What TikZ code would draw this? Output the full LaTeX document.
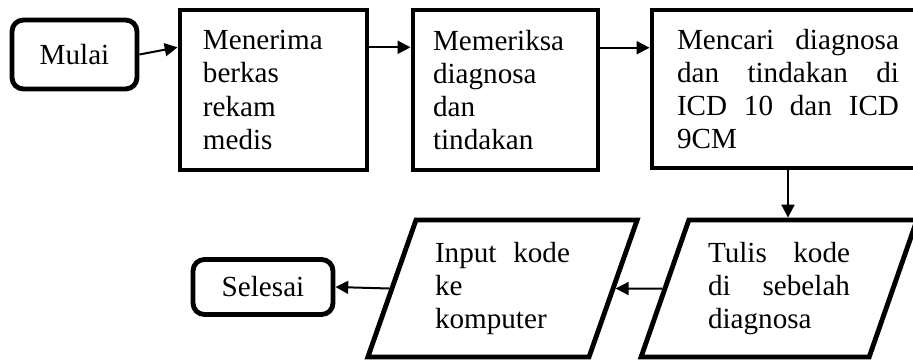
\documentclass[tikz,border=0pt]{standalone}
\usepackage{fontspec}
\setmainfont{Liberation Serif}
\usetikzlibrary{shapes.geometric,arrows.meta}

\tikzset{
	kotak/.style={draw,line width=1.7pt,inner sep=0pt,align=left,minimum height=56pt},
	mulaiselesai/.style={draw,line width=1.7pt,rounded corners=4pt,inner sep=0pt},
	jajar/.style={draw,line width=1.7pt,inner sep=0pt,align=left,trapezium,
		trapezium left angle=68,trapezium right angle=112,trapezium stretches=true,
		minimum height=47.95pt},
	panah/.style={-{Triangle[length=4.5pt,width=4.5pt]},line width=0.7pt}
}

\begin{document}
\begin{tikzpicture}[x=0.35pt,y=-0.35pt,font=\fontsize{10.2}{11.65}\selectfont]
	\useasboundingbox (0,0) rectangle (913,360);
	\clip (0,0) rectangle (913,360);
	
	%start
	\node[mulaiselesai,minimum width=43.75pt,minimum height=24.15pt] (mulai) at (74.5,54.5) {Mulai};
	
	%boxes
	\node[kotak,minimum width=65.45pt,text width=49.4pt] (menerima) at (273.5,90) {Menerima\\ berkas\\ rekam\\ medis};
	\node[kotak,minimum width=64.75pt,text width=50.75pt] (memeriksa) at (505.5,90) {Memeriksa\\ diagnosa\\ dan\\ tindakan};
	\node[kotak,minimum width=95.2pt,minimum height=55.3pt,text width=77.7pt] (mencari) at (788,89) {Mencari\hfill diagnosa\\ dan\hfill tindakan\hfill di\\ ICD\hfill 10\hfill dan\hfill ICD\\ 9CM};
	
	%parallelograms
	\node[jajar,minimum width=97pt,text width=49.7pt] (tulis) at (779,288.5) {Tulis\hfill kode\\ di\hfill sebelah\\ diagnosa};
	\node[jajar,minimum width=95pt,text width=47.25pt] (input) at (502.5,288.5) {Input\hfill kode\\ ke\\ komputer};
	
	%end
	\node[mulaiselesai,minimum width=49pt,minimum height=19.25pt] (selesai) at (263,287) {Selesai};
	
	%arrows
	\draw[panah] (mulai.east) -- (menerima.156);
	\draw[panah] (menerima.24) -- (menerima.24 -| memeriksa.west);
	\draw[panah] (memeriksa.24) -- (memeriksa.24 -| mencari.west);
	\draw[panah] (mencari.south) -- (mencari.south |- tulis.north);
	\draw[panah] (tulis.west) -- (input.east);
	\draw[panah] (input.west) -- (selesai.east);
\end{tikzpicture}
\end{document}
